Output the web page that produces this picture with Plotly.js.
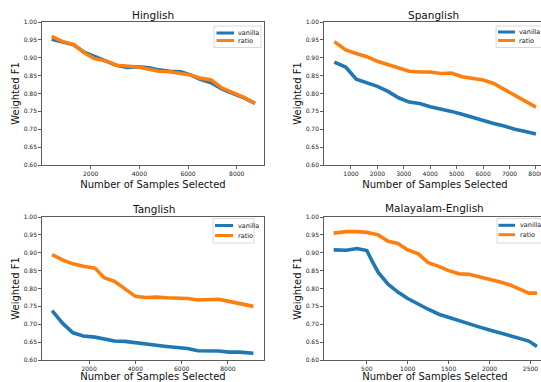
<!DOCTYPE html>
<html>
<head>
<meta charset="utf-8">
<script src="https://cdn.plot.ly/plotly-3.0.1.min.js"></script>
<style>
html,body{margin:0;padding:0;overflow:hidden;background:#fff;}
#chart{width:546px;height:382px;}
</style>
</head>
<body>
<div id="chart"></div>
<script>
// Hinglish
const hinX = [400, 850, 1300, 1750, 2150, 2600, 3050, 3500, 3950, 4400, 4800, 5250, 5700, 6100, 6500, 6950, 7400, 7850, 8300, 8750];
const hinVanilla = [0.952, 0.943, 0.936, 0.915, 0.904, 0.893, 0.879, 0.873, 0.875, 0.872, 0.866, 0.862, 0.861, 0.852, 0.840, 0.830, 0.812, 0.800, 0.788, 0.772];
const hinRatio = [0.960, 0.945, 0.937, 0.913, 0.898, 0.892, 0.879, 0.877, 0.874, 0.868, 0.862, 0.861, 0.857, 0.852, 0.843, 0.838, 0.815, 0.802, 0.789, 0.773];
// Spanglish
const spaX = [370, 800, 1200, 1600, 2000, 2400, 2800, 3200, 3600, 4000, 4400, 4800, 5200, 5600, 6000, 6400, 6800, 7200, 7600, 8000];
const spaVanilla = [0.888, 0.874, 0.840, 0.829, 0.820, 0.806, 0.788, 0.776, 0.772, 0.763, 0.757, 0.750, 0.742, 0.733, 0.724, 0.716, 0.709, 0.700, 0.694, 0.687];
const spaRatio = [0.945, 0.922, 0.912, 0.903, 0.890, 0.881, 0.872, 0.862, 0.860, 0.860, 0.856, 0.857, 0.847, 0.843, 0.838, 0.828, 0.812, 0.796, 0.779, 0.762];
// Tanglish
const tanX = [400, 850, 1300, 1750, 2250, 2650, 3100, 3550, 4000, 4450, 4900, 5350, 5800, 6250, 6700, 7150, 7600, 8050, 8500, 9100];
const tanVanilla = [0.738, 0.703, 0.676, 0.667, 0.664, 0.660, 0.653, 0.652, 0.648, 0.644, 0.640, 0.638, 0.635, 0.632, 0.626, 0.626, 0.625, 0.622, 0.622, 0.619];
const tanRatio = [0.895, 0.880, 0.869, 0.862, 0.857, 0.830, 0.820, 0.800, 0.778, 0.775, 0.776, 0.774, 0.773, 0.772, 0.768, 0.768, 0.770, 0.764, 0.759, 0.750];
// Malayalam-English
const malX = [95, 250, 380, 500, 580, 640, 760, 880, 1000, 1130, 1250, 1380, 1500, 1630, 1750, 1880, 2000, 2130, 2250, 2380, 2480, 2580];
const malVanilla = [0.908, 0.907, 0.912, 0.906, 0.870, 0.845, 0.812, 0.790, 0.772, 0.755, 0.742, 0.728, 0.719, 0.711, 0.700, 0.692, 0.684, 0.676, 0.667, 0.660, 0.653, 0.638];
const malRatio = [0.955, 0.959, 0.959, 0.957, 0.953, 0.950, 0.932, 0.926, 0.908, 0.897, 0.872, 0.862, 0.850, 0.841, 0.840, 0.833, 0.824, 0.818, 0.810, 0.798, 0.787, 0.787];

const titles = ["Hinglish", "Spanglish", "Tanglish", "Malayalam-English"];
const seriesNames = ["vanilla", "ratio"];
const yTicks = [0.60, 0.65, 0.70, 0.75, 0.80, 0.85, 0.90, 0.95, 1.00];
const xTicksHin = [2000, 4000, 6000, 8000];
const xTicksSpa = [1000, 2000, 3000, 4000, 5000, 6000, 7000, 8000];
const xTicksTan = [2000, 4000, 6000, 8000];
const xTicksMal = [500, 1000, 1500, 2000, 2500];

const BLUE = '#1f77b4', ORANGE = '#ff7f0e';
const COLORS = [BLUE, ORANGE];
const W = 546, H = 382;
const FONT = 'DejaVu Sans, sans-serif';

function mk(x, y, name, color, idx) {
  const s = idx === 1 ? '' : String(idx);
  return {
    x: x, y: y, name: name, type: 'scatter', mode: 'lines',
    line: {color: color, width: 3.6},
    xaxis: 'x' + s, yaxis: 'y' + s,
    showlegend: false
  };
}

const data = [
  mk(hinX, hinVanilla, seriesNames[0], BLUE, 1),
  mk(hinX, hinRatio, seriesNames[1], ORANGE, 1),
  mk(spaX, spaVanilla, seriesNames[0], BLUE, 2),
  mk(spaX, spaRatio, seriesNames[1], ORANGE, 2),
  mk(tanX, tanVanilla, seriesNames[0], BLUE, 3),
  mk(tanX, tanRatio, seriesNames[1], ORANGE, 3),
  mk(malX, malVanilla, seriesNames[0], BLUE, 4),
  mk(malX, malRatio, seriesNames[1], ORANGE, 4)
];

function xax(domain, range, ticks, anchor) {
  return {
    domain: domain, range: range, anchor: anchor,
    tickmode: 'array', tickvals: ticks, ticktext: ticks.map(String),
    ticks: 'outside', ticklen: 3, tickwidth: 0.8, tickcolor: '#333',
    showline: true, mirror: true, linecolor: '#333', linewidth: 0.8,
    showgrid: false, zeroline: false, automargin: false,
    tickfont: {family: FONT, size: 6, color: '#222'},
    title: {text: 'Number of Samples Selected', font: {family: FONT, size: 10, color: '#111'}, standoff: 4}
  };
}
function yax(domain, anchor) {
  return {
    domain: domain, range: [0.60, 1.00], anchor: anchor,
    tickmode: 'array', tickvals: yTicks, ticktext: yTicks.map(v => v.toFixed(2)),
    ticks: 'outside', ticklen: 3, tickwidth: 0.8, tickcolor: '#333',
    showline: true, mirror: true, linecolor: '#333', linewidth: 0.8,
    showgrid: false, zeroline: false, automargin: false,
    tickfont: {family: FONT, size: 6, color: '#222'},
    title: {text: 'Weighted F1', font: {family: FONT, size: 10, color: '#111'}, standoff: 2}
  };
}

const xL = [42 / W, 264 / W], xR = [324 / W, 1];
const yT = [(H - 165) / H, (H - 22) / H], yB = [(H - 360) / H, (H - 217) / H];

const px = v => v / W, py = v => (H - v) / H;

// legend boxes drawn in the figure: [boxX0, boxY0, boxX1, boxY1, lineX0, lineX1, textX, yVanilla, yRatio]
const legendBoxes = [
  [214, 26, 261, 47.5, 216.5, 234, 236, 33, 40.5],
  [496, 26, 560, 47.5, 498, 515, 517, 32, 40.5],
  [213, 218.5, 254, 243, 215, 233, 236, 225.5, 235.5],
  [497, 218.5, 560, 243, 498.5, 515, 517.5, 225.3, 234.7]
];
const shapes = [];
const annotations = [];
legendBoxes.forEach(b => {
  shapes.push({type: 'rect', xref: 'paper', yref: 'paper', x0: px(b[0]), x1: px(b[2]), y0: py(b[3]), y1: py(b[1]),
    line: {color: '#d0d0d0', width: 0.8}, fillcolor: 'rgba(255,255,255,0.85)', layer: 'above'});
  [b[7], b[8]].forEach((yy, i) => {
    shapes.push({type: 'line', xref: 'paper', yref: 'paper', x0: px(b[4]), x1: px(b[5]), y0: py(yy), y1: py(yy),
      line: {color: COLORS[i], width: 3}, layer: 'above'});
    annotations.push({text: seriesNames[i], xref: 'paper', yref: 'paper', x: px(b[6]), y: py(yy),
      xanchor: 'left', yanchor: 'middle', showarrow: false,
      font: {family: FONT, size: 6.5, color: '#222'}});
  });
});

[[titles[0], 153, 15], [titles[1], 433, 15], [titles[2], 153, 209], [titles[3], 435, 208]].forEach(([t, x, y]) => {
  annotations.push({
    text: t, x: px(x), y: py(y), xref: 'paper', yref: 'paper',
    xanchor: 'center', yanchor: 'middle', showarrow: false,
    font: {family: FONT, size: 10.5, color: '#111'}
  });
});

const layout = {
  width: W, height: H,
  margin: {l: 0, r: 0, t: 0, b: 0},
  paper_bgcolor: '#fff', plot_bgcolor: '#fff',
  font: {family: FONT},
  showlegend: false,
  xaxis: xax(xL, [0, 9120], xTicksHin, 'y'),
  yaxis: yax(yT, 'x'),
  xaxis2: xax(xR, [-20, 8380], xTicksSpa, 'y2'),
  yaxis2: yax(yT, 'x2'),
  xaxis3: xax(xL, [-36, 9560], xTicksTan, 'y3'),
  yaxis3: yax(yB, 'x3'),
  xaxis4: xax(xR, [-23, 2690], xTicksMal, 'y4'),
  yaxis4: yax(yB, 'x4'),
  shapes: shapes,
  annotations: annotations
};

Plotly.newPlot('chart', data, layout, {staticPlot: true, displayModeBar: false});
</script>
</body>
</html>
